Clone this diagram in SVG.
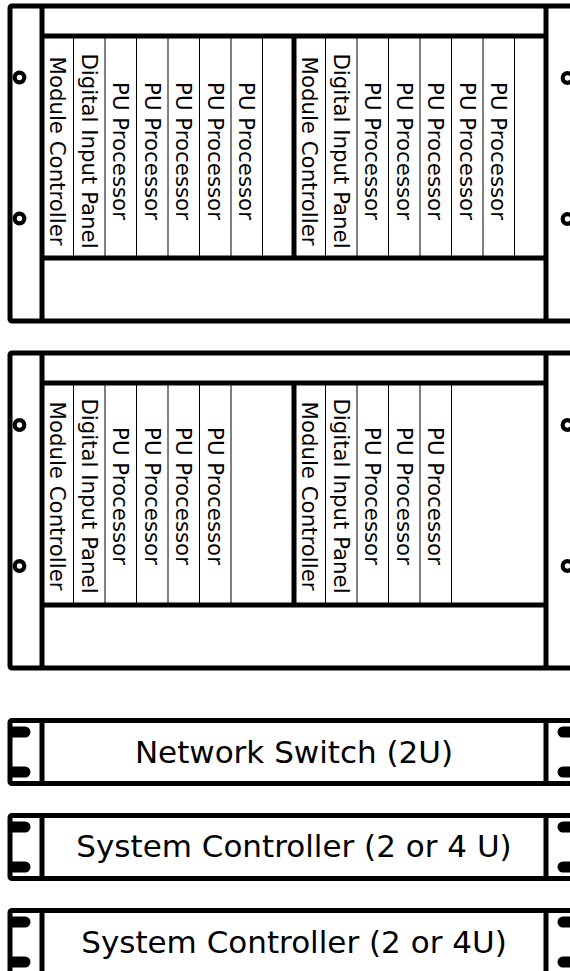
<svg xmlns="http://www.w3.org/2000/svg" width="570" height="971" viewBox="0 0 570 971">
<defs>
<style>
.frame{fill:none;stroke:#000;stroke-width:5;stroke-linejoin:round;stroke-linecap:square}
.thick{stroke:#000;stroke-width:5;fill:none}
.slot{stroke:#000;stroke-width:1;fill:none}
.hole{fill:#fff;stroke:#000;stroke-width:4.2}
.ear{fill:#000;stroke:none}
.vt{font-family:"DejaVu Sans",Verdana,sans-serif;font-size:21.3px;fill:#000;text-anchor:middle}
.ht{font-family:"DejaVu Sans",Verdana,sans-serif;font-size:31px;fill:#000;text-anchor:middle}
</style>
</defs>
<rect width="570" height="971" fill="#fff"/>

<g id="rack1">
  <rect class="frame" x="10" y="6" width="568" height="315" rx="2"/>
  <line class="thick" x1="42" y1="6" x2="42" y2="321"/>
  <line class="thick" x1="546" y1="6" x2="546" y2="321"/>
  <line class="thick" x1="42" y1="36" x2="546" y2="36"/>
  <line class="thick" x1="42" y1="258" x2="546" y2="258"/>
  <line class="thick" x1="294" y1="36" x2="294" y2="258"/>
  <circle class="hole" cx="19.5" cy="77.5" r="4.8"/>
  <circle class="hole" cx="19.5" cy="218.5" r="4.8"/>
  <circle class="hole" cx="567.5" cy="78" r="4.8"/>
  <circle class="hole" cx="567.5" cy="219" r="4.8"/>
  <g id="rack1-slots">
    <line class="slot" x1="73.5" y1="38" x2="73.5" y2="256"/>
    <line class="slot" x1="105" y1="38" x2="105" y2="256"/>
    <line class="slot" x1="136.5" y1="38" x2="136.5" y2="256"/>
    <line class="slot" x1="168" y1="38" x2="168" y2="256"/>
    <line class="slot" x1="199.5" y1="38" x2="199.5" y2="256"/>
    <line class="slot" x1="231" y1="38" x2="231" y2="256"/>
    <line class="slot" x1="262.5" y1="38" x2="262.5" y2="256"/>
    <line class="slot" x1="325.5" y1="38" x2="325.5" y2="256"/>
    <line class="slot" x1="357" y1="38" x2="357" y2="256"/>
    <line class="slot" x1="388.5" y1="38" x2="388.5" y2="256"/>
    <line class="slot" x1="420" y1="38" x2="420" y2="256"/>
    <line class="slot" x1="451.5" y1="38" x2="451.5" y2="256"/>
    <line class="slot" x1="483" y1="38" x2="483" y2="256"/>
    <line class="slot" x1="514.5" y1="38" x2="514.5" y2="256"/>
  </g>
  <g id="rack1-labels">
    <text class="vt" transform="translate(50,151) rotate(90)">Module Controller</text>
    <text class="vt" transform="translate(81.5,151) rotate(90)">Digital Input Panel</text>
    <text class="vt" transform="translate(113,151) rotate(90)">PU Processor</text>
    <text class="vt" transform="translate(144.5,151) rotate(90)">PU Processor</text>
    <text class="vt" transform="translate(176,151) rotate(90)">PU Processor</text>
    <text class="vt" transform="translate(207.5,151) rotate(90)">PU Processor</text>
    <text class="vt" transform="translate(239,151) rotate(90)">PU Processor</text>
    <text class="vt" transform="translate(302,151) rotate(90)">Module Controller</text>
    <text class="vt" transform="translate(333.5,151) rotate(90)">Digital Input Panel</text>
    <text class="vt" transform="translate(365,151) rotate(90)">PU Processor</text>
    <text class="vt" transform="translate(396.5,151) rotate(90)">PU Processor</text>
    <text class="vt" transform="translate(428,151) rotate(90)">PU Processor</text>
    <text class="vt" transform="translate(459.5,151) rotate(90)">PU Processor</text>
    <text class="vt" transform="translate(491,151) rotate(90)">PU Processor</text>
  </g>
</g>

<g id="rack2">
  <rect class="frame" x="10" y="353" width="568" height="315" rx="2"/>
  <line class="thick" x1="42" y1="353" x2="42" y2="668"/>
  <line class="thick" x1="546" y1="353" x2="546" y2="668"/>
  <line class="thick" x1="42" y1="383" x2="546" y2="383"/>
  <line class="thick" x1="42" y1="605" x2="546" y2="605"/>
  <line class="thick" x1="294" y1="383" x2="294" y2="605"/>
  <circle class="hole" cx="19.5" cy="425" r="4.8"/>
  <circle class="hole" cx="19.5" cy="566" r="4.8"/>
  <circle class="hole" cx="567.5" cy="425" r="4.8"/>
  <circle class="hole" cx="567.5" cy="566" r="4.8"/>
  <g id="rack2-slots">
    <line class="slot" x1="73.5" y1="385" x2="73.5" y2="603"/>
    <line class="slot" x1="105" y1="385" x2="105" y2="603"/>
    <line class="slot" x1="136.5" y1="385" x2="136.5" y2="603"/>
    <line class="slot" x1="168" y1="385" x2="168" y2="603"/>
    <line class="slot" x1="199.5" y1="385" x2="199.5" y2="603"/>
    <line class="slot" x1="231" y1="385" x2="231" y2="603"/>
    <line class="slot" x1="325.5" y1="385" x2="325.5" y2="603"/>
    <line class="slot" x1="357" y1="385" x2="357" y2="603"/>
    <line class="slot" x1="388.5" y1="385" x2="388.5" y2="603"/>
    <line class="slot" x1="420" y1="385" x2="420" y2="603"/>
    <line class="slot" x1="451.5" y1="385" x2="451.5" y2="603"/>
  </g>
  <g id="rack2-labels">
    <text class="vt" transform="translate(50,496) rotate(90)">Module Controller</text>
    <text class="vt" transform="translate(81.5,496) rotate(90)">Digital Input Panel</text>
    <text class="vt" transform="translate(113,496) rotate(90)">PU Processor</text>
    <text class="vt" transform="translate(144.5,496) rotate(90)">PU Processor</text>
    <text class="vt" transform="translate(176,496) rotate(90)">PU Processor</text>
    <text class="vt" transform="translate(207.5,496) rotate(90)">PU Processor</text>
    <text class="vt" transform="translate(302,496) rotate(90)">Module Controller</text>
    <text class="vt" transform="translate(333.5,496) rotate(90)">Digital Input Panel</text>
    <text class="vt" transform="translate(365,496) rotate(90)">PU Processor</text>
    <text class="vt" transform="translate(396.5,496) rotate(90)">PU Processor</text>
    <text class="vt" transform="translate(428,496) rotate(90)">PU Processor</text>
  </g>
</g>

<g id="network-switch">
  <rect class="frame" x="10" y="720.5" width="568" height="63" rx="2"/>
  <line class="thick" x1="42" y1="720.5" x2="42" y2="783.5"/>
  <line class="thick" x1="546" y1="720.5" x2="546" y2="783.5"/>
  <path class="ear" d="M10,726.5 H25 A5.5,5.5 0 0 1 25,737.5 H10 Z"/>
  <path class="ear" d="M10,766.5 H25 A5.5,5.5 0 0 1 25,777.5 H10 Z"/>
  <path class="ear" d="M578,726.5 H563 A5.5,5.5 0 0 0 563,737.5 H578 Z"/>
  <path class="ear" d="M578,766.5 H563 A5.5,5.5 0 0 0 563,777.5 H578 Z"/>
  <text class="ht" x="294" y="763">Network Switch (2U)</text>
</g>

<g id="system-controller-1">
  <rect class="frame" x="10" y="815.5" width="568" height="63" rx="2"/>
  <line class="thick" x1="42" y1="815.5" x2="42" y2="878.5"/>
  <line class="thick" x1="546" y1="815.5" x2="546" y2="878.5"/>
  <path class="ear" d="M10,821.5 H25 A5.5,5.5 0 0 1 25,832.5 H10 Z"/>
  <path class="ear" d="M10,861.5 H25 A5.5,5.5 0 0 1 25,872.5 H10 Z"/>
  <path class="ear" d="M578,821.5 H563 A5.5,5.5 0 0 0 563,832.5 H578 Z"/>
  <path class="ear" d="M578,861.5 H563 A5.5,5.5 0 0 0 563,872.5 H578 Z"/>
  <text class="ht" x="294" y="857">System Controller (2 or 4 U)</text>
</g>

<g id="system-controller-2">
  <rect class="frame" x="10" y="910.5" width="568" height="63" rx="2"/>
  <line class="thick" x1="42" y1="910.5" x2="42" y2="973.5"/>
  <line class="thick" x1="546" y1="910.5" x2="546" y2="973.5"/>
  <path class="ear" d="M10,916.5 H25 A5.5,5.5 0 0 1 25,927.5 H10 Z"/>
  <path class="ear" d="M10,956.5 H25 A5.5,5.5 0 0 1 25,967.5 H10 Z"/>
  <path class="ear" d="M578,916.5 H563 A5.5,5.5 0 0 0 563,927.5 H578 Z"/>
  <path class="ear" d="M578,956.5 H563 A5.5,5.5 0 0 0 563,967.5 H578 Z"/>
  <text class="ht" x="294" y="953">System Controller (2 or 4U)</text>
</g>
</svg>
